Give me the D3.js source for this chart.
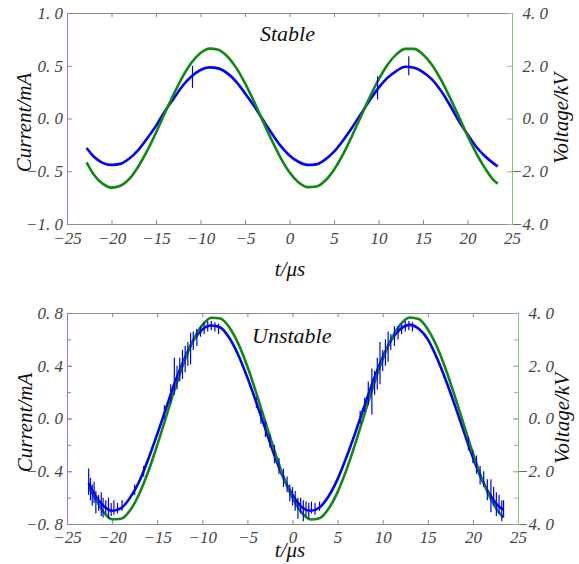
<!DOCTYPE html>
<html>
<head>
<meta charset="utf-8">
<script src="https://cdn.jsdelivr.net/npm/d3@7"></script>
<style>
  body { margin: 0; background: #fff; }
  text { font-family: "Liberation Serif", "DejaVu Serif", serif; font-style: italic; }
</style>
</head>
<body>
<svg id="chart"></svg>
<script>
// time axis ticks (us)
var timeTicks = [-25, -20, -15, -10, -5, 0, 5, 10, 15, 20, 25];

// ---- stable case ----
var stableTime = [-22.8, -22, -21, -20, -19, -18, -17, -16, -15, -14, -13, -12, -11, -10, -9, -8, -7, -6, -5, -4, -3, -2, -1,
  0, 1, 2, 3, 4, 5, 6, 7, 8, 9, 10, 11, 12, 13, 14, 15, 16, 17, 18, 19, 20, 21, 22, 23, 23.4];
var stableCurrent = [-0.28, -0.36, -0.42, -0.44, -0.43, -0.38, -0.30, -0.19, -0.07, 0.07, 0.19, 0.31, 0.40, 0.46, 0.485, 0.475, 0.43, 0.35, 0.24, 0.12, -0.01, -0.14, -0.26,
  -0.35, -0.41, -0.44, -0.435, -0.39, -0.315, -0.21, -0.09, 0.04, 0.17, 0.29, 0.385, 0.45, 0.49, 0.48, 0.44, 0.37, 0.265, 0.13, -0.02, -0.15, -0.27, -0.36, -0.43, -0.455];
var stableVoltage = [-1.66, -2.12, -2.47, -2.62, -2.55, -2.29, -1.83, -1.23, -0.54, 0.21, 0.93, 1.59, 2.12, 2.48, 2.65, 2.61, 2.36, 1.93, 1.34, 0.65, -0.09, -0.82, -1.49,
  -2.04, -2.42, -2.60, -2.58, -2.36, -1.94, -1.37, -0.68, 0.06, 0.79, 1.47, 2.03, 2.43, 2.64, 2.64, 2.43, 2.04, 1.48, 0.81, 0.09, -0.65, -1.33, -1.90, -2.36, -2.47];
// current glitches [t, low, high]
var stableSpikes = [[-10.9, 0.29, 0.50], [9.9, 0.18, 0.40], [13.4, 0.41, 0.59]];
var stableCurrentTicks = [-1.0, -0.5, 0.0, 0.5, 1.0];
var stableVoltageTicks = [-4.0, -2.0, 0.0, 2.0, 4.0];

// ---- unstable case ----
var unstableTime = [-22.6, -22, -21, -20, -19, -18, -17, -16, -15, -14, -13, -12, -11, -10, -9, -8, -7, -6, -5, -4, -3, -2, -1,
  0, 1, 2, 3, 4, 5, 6, 7, 8, 9, 10, 11, 12, 13, 14, 15, 16, 17, 18, 19, 20, 21, 22, 23, 23.4];
var unstableCurrent = [-0.49, -0.57, -0.66, -0.70, -0.68, -0.60, -0.48, -0.31, -0.12, 0.08, 0.28, 0.45, 0.59, 0.675, 0.705, 0.69, 0.61, 0.48, 0.31, 0.12, -0.08, -0.28, -0.45,
  -0.58, -0.67, -0.70, -0.675, -0.59, -0.46, -0.29, -0.10, 0.10, 0.295, 0.465, 0.60, 0.68, 0.71, 0.68, 0.60, 0.46, 0.29, 0.10, -0.10, -0.295, -0.465, -0.59, -0.675, -0.69];
var unstableVoltage = [-2.6, -2.94, -3.52, -3.82, -3.80, -3.48, -2.86, -2.02, -1.01, 0.08, 1.17, 2.16, 2.97, 3.54, 3.82, 3.79, 3.45, 2.83, 1.97, 0.95, -0.14, -1.22, -2.21,
  -3.01, -3.56, -3.83, -3.78, -3.42, -2.79, -1.93, -0.91, 0.19, 1.27, 2.25, 3.04, 3.58, 3.83, 3.77, 3.38, 2.73, 1.86, 0.84, -0.24, -1.31, -2.28, -3.06, -3.61, -3.75];
var unstableSpikes = [
  [-22.6, -0.58, -0.38], [-22.4, -0.62, -0.45], [-22.2, -0.66, -0.50], [-22.0, -0.64, -0.48], [-21.8, -0.72, -0.55],
  [-21.5, -0.70, -0.58], [-21.2, -0.74, -0.56], [-21.0, -0.75, -0.60], [-20.7, -0.72, -0.62], [-20.4, -0.76, -0.60],
  [-20.1, -0.74, -0.64], [-19.8, -0.73, -0.62], [-19.4, -0.72, -0.64], [-18.9, -0.70, -0.62], [-17.5, -0.58, -0.50],
  [-16.5, -0.44, -0.36], [-14.2, 0.0, 0.10], [-13.5, 0.12, 0.26], [-13.1, 0.18, 0.46], [-12.8, 0.22, 0.40],
  [-12.5, 0.28, 0.46], [-12.2, 0.30, 0.52], [-11.9, 0.35, 0.55], [-11.6, 0.40, 0.58], [-11.3, 0.41, 0.65],
  [-11.0, 0.52, 0.66], [-10.6, 0.55, 0.68], [-10.2, 0.62, 0.70], [-9.8, 0.64, 0.73], [-9.4, 0.66, 0.74],
  [-9.0, 0.67, 0.74], [-8.6, 0.66, 0.73], [-8.2, 0.64, 0.72], [-4.0, 0.08, 0.16], [-3.5, -0.04, 0.06],
  [-3.0, -0.14, -0.02], [-2.5, -0.22, -0.12], [-2.0, -0.34, -0.20], [-1.5, -0.42, -0.30], [-1.0, -0.52, -0.38],
  [-0.6, -0.56, -0.44], [-0.3, -0.63, -0.50], [0.0, -0.66, -0.52], [0.3, -0.70, -0.55], [0.6, -0.76, -0.60],
  [0.9, -0.72, -0.60], [1.2, -0.78, -0.62], [1.5, -0.74, -0.63], [1.8, -0.76, -0.64], [2.1, -0.72, -0.63],
  [2.5, -0.73, -0.64], [3.0, -0.70, -0.63], [7.5, -0.04, 0.06], [8.0, 0.05, 0.16], [8.4, 0.10, 0.28],
  [8.8, 0.03, 0.38], [9.1, 0.18, 0.36], [9.4, 0.22, 0.46], [9.7, 0.26, 0.58], [10.0, 0.36, 0.52],
  [10.3, 0.40, 0.60], [10.6, 0.43, 0.66], [10.9, 0.52, 0.64], [11.3, 0.55, 0.70], [11.7, 0.60, 0.70],
  [12.1, 0.64, 0.72], [12.5, 0.66, 0.74], [12.9, 0.67, 0.74], [13.3, 0.66, 0.73], [19.5, -0.24, -0.14],
  [20.0, -0.34, -0.24], [20.4, -0.42, -0.28], [20.8, -0.50, -0.36], [21.2, -0.52, -0.40], [21.6, -0.62, -0.46],
  [22.0, -0.71, -0.46], [22.3, -0.66, -0.52], [22.6, -0.74, -0.56], [22.9, -0.72, -0.58], [23.2, -0.78, -0.62],
  [23.4, -0.75, -0.62]];
var unstableCurrentTicks = [-0.8, -0.4, 0.0, 0.4, 0.8];
var unstableCurrentMinor = [-0.8, -0.6, -0.4, -0.2, 0.0, 0.2, 0.4, 0.6, 0.8];
var unstableVoltageTicks = [-4.0, -2.0, 0.0, 2.0, 4.0];
var unstableVoltageMinor = [-4, -3, -2, -1, 0, 1, 2, 3, 4];

var svg = d3.select("#chart").attr("width", 579).attr("height", 564);
svg.append("rect").attr("width", 579).attr("height", 564).attr("fill", "#fff");

function numFmt(v) {
  var s = Math.abs(v).toFixed(1).replace(".", ". ");
  return (v < 0 ? "\u2212" : "") + s;
}
function intFmt(v) {
  return (v < 0 ? "\u2212" : "") + Math.abs(v);
}

function drawPanel(p) {
  var x = d3.scaleLinear().domain([-25, 25]).range([p.left, p.right]);
  var yI = d3.scaleLinear().domain(p.iDomain).range([p.bottom, p.top]);
  var yV = d3.scaleLinear().domain(p.vDomain).range([p.bottom, p.top]);
  var g = svg.append("g");

  // top and bottom frame with inward ticks
  var top = g.append("g").attr("transform", "translate(0," + p.top + ")")
    .call(d3.axisTop(x).tickValues(timeTicks).tickSize(-4).tickSizeOuter(0).tickFormat(""));
  var bot = g.append("g").attr("transform", "translate(0," + p.bottom + ")")
    .call(d3.axisBottom(x).tickValues(timeTicks).tickSize(-4).tickSizeOuter(0).tickPadding(p.xPad).tickFormat(intFmt));
  [top, bot].forEach(function(a) {
    a.select(".domain").attr("stroke", "#8c8c8c");
    a.selectAll(".tick line").attr("stroke", "#8c8c8c");
  });
  bot.selectAll("text").attr("font-size", 17).attr("fill", "#444");

  // left (current) axis
  if (p.iMinor) {
    g.append("g").attr("transform", "translate(" + p.left + ",0)")
      .call(d3.axisLeft(yI).tickValues(p.iMinor).tickSize(-4).tickSizeOuter(0).tickFormat(""))
      .call(function(a) { a.select(".domain").remove(); a.selectAll("line").attr("stroke", "#7d7dff"); });
  }
  var la = g.append("g").attr("transform", "translate(" + p.left + ",0)")
    .call(d3.axisLeft(yI).tickValues(p.iTicks).tickSize(-5).tickSizeOuter(0).tickPadding(4).tickFormat(numFmt));
  la.select(".domain").attr("stroke", "#7d7dff");
  la.selectAll(".tick line").attr("stroke", "#7d7dff");
  la.selectAll("text").attr("font-size", 17).attr("fill", "#444");

  // right (voltage) axis
  if (p.vMinor) {
    g.append("g").attr("transform", "translate(" + p.right + ",0)")
      .call(d3.axisRight(yV).tickValues(p.vMinor).tickSize(-4).tickSizeOuter(0).tickFormat(""))
      .call(function(a) { a.select(".domain").remove(); a.selectAll("line").attr("stroke", "#7fc97f"); });
  }
  var ra = g.append("g").attr("transform", "translate(" + p.right + ",0)")
    .call(d3.axisRight(yV).tickValues(p.vTicks).tickSize(-5).tickSizeOuter(0).tickPadding(36).tickFormat(numFmt));
  ra.select(".domain").attr("stroke", "#7fc97f");
  ra.selectAll(".tick line").attr("stroke", "#7fc97f");
  ra.selectAll("text").attr("font-size", 17).attr("fill", "#444").attr("text-anchor", "end");

  var iLine = d3.line()
    .x(function(d, i) { return x(p.time[i]); })
    .y(function(d) { return yI(d); })
    .curve(d3.curveMonotoneX);
  var vLine = d3.line()
    .x(function(d, i) { return x(p.time[i]); })
    .y(function(d) { return yV(d); })
    .curve(d3.curveMonotoneX);

  g.append("path").datum(p.current)
    .attr("d", iLine).attr("fill", "none").attr("stroke", "#0000ff").attr("stroke-width", 2.6);
  g.append("path").datum(p.voltage)
    .attr("d", vLine).attr("fill", "none").attr("stroke", "#128812").attr("stroke-width", 2.6);

  g.selectAll(null).data(p.spikes).enter().append("line")
    .attr("x1", function(d) { return x(d[0]); })
    .attr("x2", function(d) { return x(d[0]); })
    .attr("y1", function(d) { return yI(d[1]); })
    .attr("y2", function(d) { return yI(d[2]); })
    .attr("stroke", "#0000ff").attr("stroke-width", 1.2);

  // labels
  g.append("text").attr("x", p.titleX).attr("y", p.titleY)
    .attr("font-size", 22).attr("fill", "#111").text(p.title);
  g.append("text").attr("x", 290).attr("y", p.tLabelY).attr("text-anchor", "middle")
    .attr("font-size", 21).attr("fill", "#111").text("t/\u03bcs");
  g.append("text")
    .attr("transform", "translate(" + p.iLabelX + "," + ((p.top + p.bottom) / 2 + 4) + ") rotate(-90)")
    .attr("text-anchor", "middle").attr("dy", "0.35em")
    .attr("font-size", 21).attr("fill", "#111").text("Current/mA");
  g.append("text")
    .attr("transform", "translate(" + p.vLabelX + "," + ((p.top + p.bottom) / 2 + 0) + ") rotate(-90)")
    .attr("text-anchor", "middle").attr("dy", "0.35em")
    .attr("font-size", 21).attr("fill", "#111").text("Voltage/kV");
}

drawPanel({
  left: 67, right: 512, top: 13, bottom: 224, xPad: 8,
  iDomain: [-1, 1], vDomain: [-4, 4],
  iTicks: stableCurrentTicks, vTicks: stableVoltageTicks,
  time: stableTime, current: stableCurrent, voltage: stableVoltage, spikes: stableSpikes,
  title: "Stable", titleX: 260, titleY: 41, tLabelY: 276, iLabelX: 24, vLabelX: 561
});

drawPanel({
  left: 67, right: 518, top: 313, bottom: 524, xPad: 7,
  iDomain: [-0.8, 0.8], vDomain: [-4, 4],
  iTicks: unstableCurrentTicks, vTicks: unstableVoltageTicks,
  iMinor: unstableCurrentMinor, vMinor: unstableVoltageMinor,
  time: unstableTime, current: unstableCurrent, voltage: unstableVoltage, spikes: unstableSpikes,
  title: "Unstable", titleX: 252, titleY: 343, tLabelY: 557, iLabelX: 25, vLabelX: 562
});
</script>
</body>
</html>
